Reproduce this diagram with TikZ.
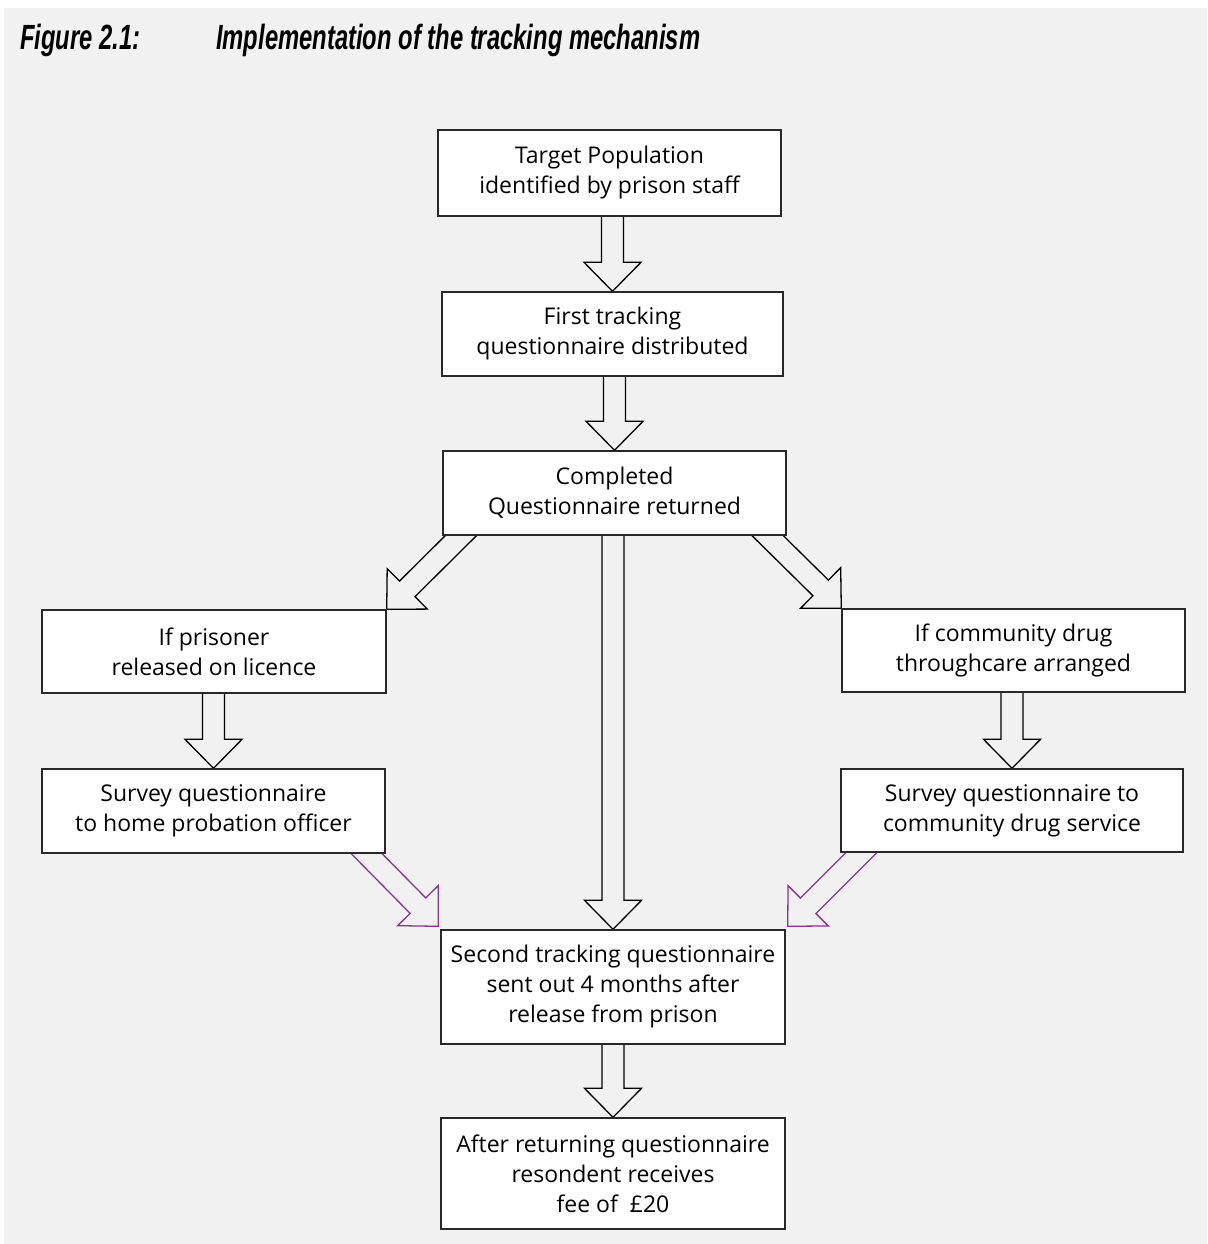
\documentclass[tikz,border=0pt]{standalone}
\usepackage{fontspec}
\setmainfont{Open Sans}
\newfontfamily\titlefont[FakeStretch=0.68]{Liberation Sans}
\usetikzlibrary{calc}
\pgfdeclarelayer{back}
\pgfdeclarelayer{arrows}
\pgfsetlayers{back,arrows,main}
\definecolor{bggray}{RGB}{241,241,241}
\definecolor{arrpurple}{RGB}{140,50,150}
\definecolor{boxline}{RGB}{40,40,40}
\tikzset{
  box/.style={draw=boxline, line width=1.4pt, fill=white, inner sep=0pt,
    align=center, font=\fontsize{23}{30}\selectfont, text=black},
  barrow/.style={draw=black, line width=1.3pt, line join=miter},
  parrow/.style={barrow, draw=arrpurple},
  titletext/.style={font=\titlefont\bfseries\itshape\fontsize{35}{40}\selectfont,
    inner sep=0pt, anchor=base west}
}
% block arrow: #2 = start point, #3 = tip point
\newcommand\blockarrow[3][]{%
  \path (#2) coordinate (ba-s) (#3) coordinate (ba-t);
  \path ($(ba-t)!29pt!(ba-s)$) coordinate (ba-h);
  \draw[barrow,#1] ($(ba-s)!11pt!90:(ba-t)$)
    -- ($(ba-h)!11pt!-90:(ba-s)$)
    -- ($(ba-h)!28.5pt!-90:(ba-s)$)
    -- (ba-t)
    -- ($(ba-h)!28.5pt!90:(ba-s)$)
    -- ($(ba-h)!11pt!90:(ba-s)$)
    -- ($(ba-s)!11pt!-90:(ba-t)$);
}
\begin{document}
\begin{tikzpicture}[x=1pt,y=-1pt]
\useasboundingbox (0,0) rectangle (1207,1244);
\begin{pgfonlayer}{back}
\fill[white] (0,0) rectangle (1207,1244);
\fill[bggray] (4,8) rectangle (1207,1244);
\end{pgfonlayer}

\node[titletext] (fig) at (20,50) {Figure 2.1:};
\node[titletext] (ttl) at (216,50) {Implementation of the tracking mechanism};

\node[box, minimum width=343, minimum height=86] (tgt) at (609.5,173)
  {Target Population\\identified by prison staff};
\node[box, minimum width=341, minimum height=84] (first) at (612.5,334)
  {First tracking\\questionnaire distributed};
\node[box, minimum width=343, minimum height=84] (done) at (614.5,493)
  {Completed\\Questionnaire returned};
\node[box, minimum width=344, minimum height=83] (pris) at (214,651.5)
  {If prisoner\\released on licence};
\node[box, minimum width=343, minimum height=83] (comm) at (1013.5,650.5)
  {If community drug\\throughcare arranged};
\node[box, minimum width=343, minimum height=84] (prob) at (213.5,811)
  {Survey questionnaire\\to home probation officer};
\node[box, minimum width=342, minimum height=83] (serv) at (1012,810.5)
  {Survey questionnaire to\\community drug service};
\node[box, minimum width=344, minimum height=114] (second) at (613,987)
  {Second tracking questionnaire\\sent out 4 months after\\release from prison};
\node[box, minimum width=344, minimum height=111] (after) at (613,1173.5)
  {After returning questionnaire\\resondent receives\\fee of~~£20};

\coordinate (tl) at ($(second.north west)+(-2,-3)$);
\coordinate (tr) at ($(second.north east)+(2,-3)$);
\coordinate (dl) at ($($(done.south west)+(18.5,0)$)!-20pt!(pris.north east)$);
\coordinate (dr) at ($($(done.south east)+(-19,0)$)!-20pt!(comm.north west)$);
\coordinate (pl) at ($($(prob.south east)+(-19,0)$)!-20pt!(tl)$);
\coordinate (pr) at ($($(serv.south west)+(21,0)$)!-20pt!(tr)$);

\begin{pgfonlayer}{arrows}
\blockarrow{tgt.south -| first.north}{first.north}
\blockarrow{first.south -| done.north}{done.north}
\blockarrow{done.south -| second.north}{second.north}
\blockarrow{dl}{pris.north east}
\blockarrow{dr}{comm.north west}
\blockarrow{pris.south -| prob.north}{prob.north}
\blockarrow{comm.south -| serv.north}{serv.north}
\blockarrow[parrow]{pl}{tl}
\blockarrow[parrow]{pr}{tr}
\blockarrow{second.south -| after.north}{after.north}
\end{pgfonlayer}
\end{tikzpicture}
\end{document}
